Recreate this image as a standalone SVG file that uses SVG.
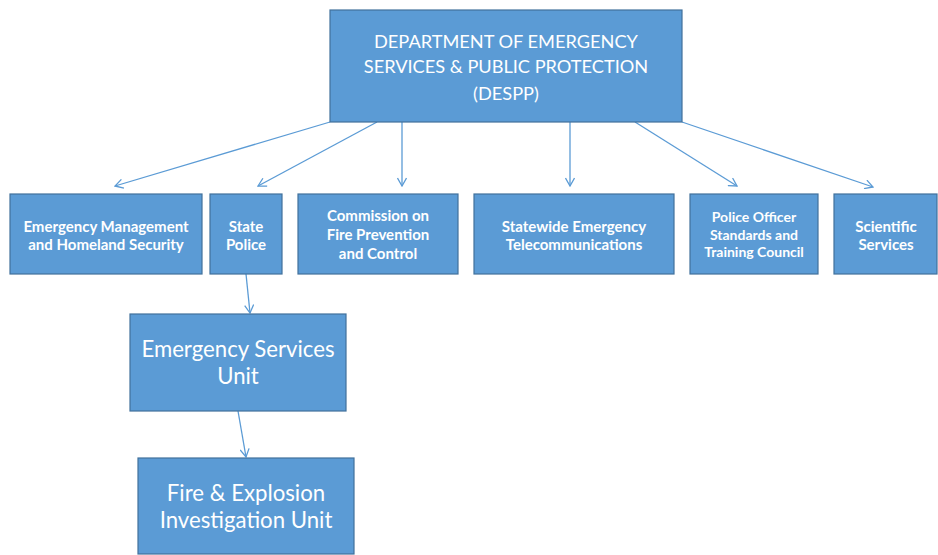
<svg xmlns="http://www.w3.org/2000/svg" width="938" height="555" viewBox="0 0 938 555">
<style>
.box{fill:#5b9bd5;stroke:#41719c;stroke-width:1.2}
.t{font-family:Lato,"Liberation Sans",sans-serif;fill:#ffffff;text-anchor:middle}
.b{font-weight:bold;font-size:15px}
.s{font-weight:bold;font-size:14px}
.top{font-size:18.2px}
.big{font-size:22.2px}
.c{fill:none;stroke:#5b9bd5;stroke-width:1.3}
</style>
<defs>
<marker id="arr" viewBox="0 0 10 10" refX="9" refY="5" markerWidth="10" markerHeight="10" markerUnits="userSpaceOnUse" orient="auto">
<path d="M1,0.5 L9,5 L1,9.5" fill="none" stroke="#5b9bd5" stroke-width="1.3"/>
</marker>
</defs>
<rect width="938" height="555" fill="#ffffff"/>
<g id="connectors">
<line class="c" x1="330" y1="122" x2="115" y2="186" marker-end="url(#arr)"/>
<line class="c" x1="377" y1="122" x2="258" y2="186" marker-end="url(#arr)"/>
<line class="c" x1="402" y1="122" x2="402" y2="186" marker-end="url(#arr)"/>
<line class="c" x1="570" y1="122" x2="570" y2="186" marker-end="url(#arr)"/>
<line class="c" x1="635" y1="122" x2="737" y2="186" marker-end="url(#arr)"/>
<line class="c" x1="682" y1="122" x2="873" y2="187" marker-end="url(#arr)"/>
<line class="c" x1="246" y1="274" x2="250" y2="313" marker-end="url(#arr)"/>
<line class="c" x1="238" y1="411" x2="246" y2="457" marker-end="url(#arr)"/>
</g>
<g id="despp">
<rect class="box" x="330" y="10" width="352" height="112"/>
<text class="t top" x="506" y="48">DEPARTMENT OF EMERGENCY</text>
<text class="t top" x="506" y="73">SERVICES &amp; PUBLIC PROTECTION</text>
<text class="t top" x="506" y="100">(DESPP)</text>
</g>
<g id="emhs">
<rect class="box" x="10" y="194" width="192" height="80"/>
<text class="t b" x="106" y="232">Emergency Management</text>
<text class="t b" x="106" y="250">and Homeland Security</text>
</g>
<g id="state-police">
<rect class="box" x="210" y="194" width="72" height="80"/>
<text class="t b" x="246" y="232">State</text>
<text class="t b" x="246" y="250">Police</text>
</g>
<g id="commission">
<rect class="box" x="298" y="194" width="160" height="80"/>
<text class="t b" x="378" y="221">Commission on</text>
<text class="t b" x="378" y="240">Fire Prevention</text>
<text class="t b" x="378" y="259">and Control</text>
</g>
<g id="telecom">
<rect class="box" x="474" y="194" width="200" height="80"/>
<text class="t b" x="574" y="232">Statewide Emergency</text>
<text class="t b" x="574" y="250">Telecommunications</text>
</g>
<g id="post">
<rect class="box" x="690" y="194" width="128" height="80"/>
<text class="t s" x="754" y="222">Police Officer</text>
<text class="t s" x="754" y="240">Standards and</text>
<text class="t s" x="754" y="257">Training Council</text>
</g>
<g id="scientific">
<rect class="box" x="834" y="194" width="103" height="80"/>
<text class="t b" x="886" y="232">Scientific</text>
<text class="t b" x="886" y="250">Services</text>
</g>
<g id="esu">
<rect class="box" x="130" y="314" width="216" height="97"/>
<text class="t big" x="238" y="357">Emergency Services</text>
<text class="t big" x="238" y="384">Unit</text>
</g>
<g id="feiu">
<rect class="box" x="138" y="458" width="216" height="96"/>
<text class="t big" x="246" y="501">Fire &amp; Explosion</text>
<text class="t big" x="246" y="528">Investigation Unit</text>
</g>
</svg>
